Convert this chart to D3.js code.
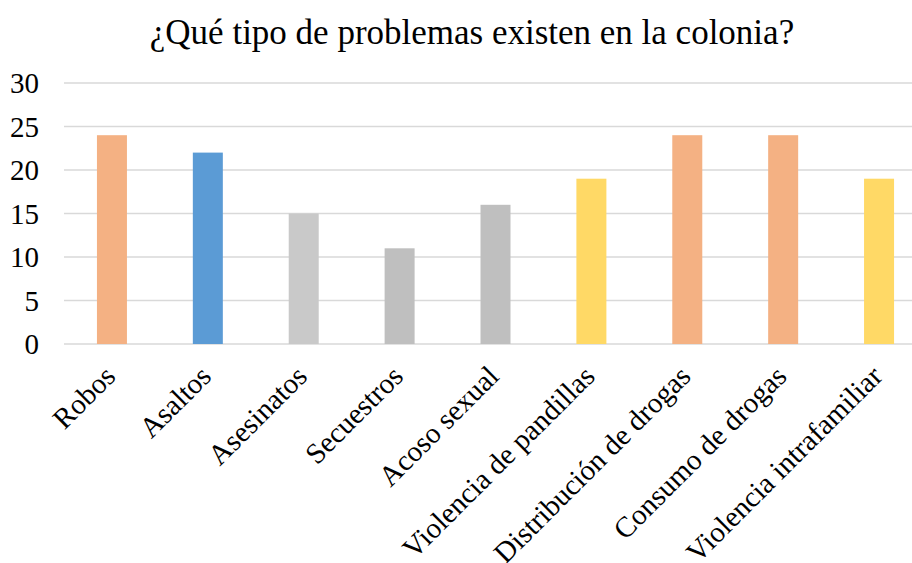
<!DOCTYPE html>
<html><head><meta charset="utf-8">
<script src="https://cdn.jsdelivr.net/npm/d3@7"></script>
<style>body{margin:0;background:#fff}svg{display:block}text{font-family:"Liberation Serif","Times New Roman",serif;fill:#000}</style>
</head><body><svg id="c" width="912" height="563"></svg>
<script>
const categories = ["Robos","Asaltos","Asesinatos","Secuestros","Acoso sexual","Violencia de pandillas","Distribución de drogas","Consumo de drogas","Violencia intrafamiliar"];
const values = [24,22,15,11,16,19,24,24,19];
const colors = ["#F4B183","#5B9BD5","#C9C9C9","#BFBFBF","#BFBFBF","#FFD966","#F4B183","#F4B183","#FFD966"];
const yTicks = [0,5,10,15,20,25,30];
const title = "¿Qué tipo de problemas existen en la colonia?";

const svg = d3.select("#c");
const x = d3.scaleBand().domain(categories).range([64, 927]).padding(0);
const y = d3.scaleLinear().domain([0,30]).range([344, 83]);

svg.append("text").attr("x", 472).attr("y", 44).attr("text-anchor","middle")
  .style("font-size","35px").text(title);

svg.append("g").selectAll("line").data(yTicks).join("line")
  .attr("x1", 64).attr("x2", 927)
  .attr("y1", d => y(d)).attr("y2", d => y(d))
  .attr("stroke", "#D9D9D9").attr("stroke-width", 1.4);

svg.append("g").selectAll("text").data(yTicks).join("text")
  .attr("x", 39).attr("y", d => y(d)).attr("dy","0.35em").attr("text-anchor","end")
  .style("font-size","29px").text(d => d);

const bw = 30;
svg.append("g").selectAll("rect").data(categories).join("rect")
  .attr("x", d => x(d) + x.bandwidth()/2 - bw/2)
  .attr("width", bw)
  .attr("y", (d,i) => y(values[i]))
  .attr("height", (d,i) => y(0) - y(values[i]))
  .attr("fill", (d,i) => colors[i]);

svg.append("g").selectAll("text").data(categories).join("text")
  .attr("transform", d => `translate(${x(d) + x.bandwidth()/2 + 5},${378}) rotate(-45)`)
  .attr("text-anchor","end")
  .style("font-size","29px").text(d => d);
</script></body></html>
